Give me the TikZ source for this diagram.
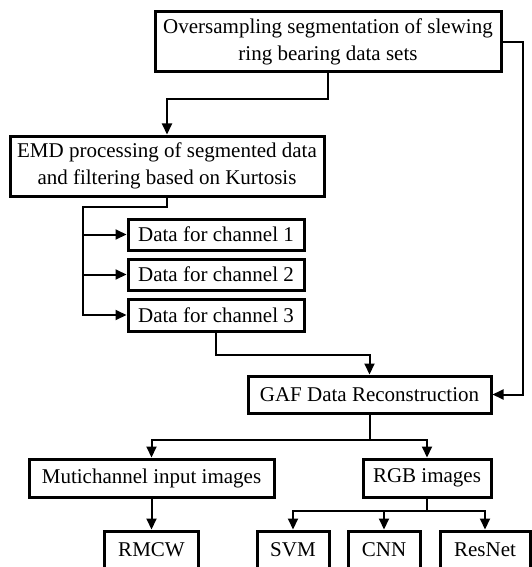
\documentclass[tikz,border=0pt]{standalone}
\usepackage{fontspec}
\setmainfont{Liberation Serif}
\usetikzlibrary{arrows.meta}
\tikzset{
  box/.style={draw, line width=3pt, inner sep=0pt, align=center,
    font=\fontsize{21}{27}\selectfont},
  conn/.style={line width=2pt},
  arr/.style={conn, -{Triangle[length=11pt,width=10pt]}}
}
\begin{document}
\begin{tikzpicture}[x=1pt,y=-1pt]
\useasboundingbox (0,0) rectangle (532,567);
\node[box, minimum width=346pt, minimum height=60pt] (B1) at (328,42) {Oversampling segmentation of slewing\\ring bearing data sets};
\node[box, minimum width=314pt, minimum height=60pt] (B2) at (167,166) {EMD processing of segmented data\\and filtering based on Kurtosis};
\node[box, minimum width=176pt, minimum height=31pt] (C1) at (216,234.5) {Data for channel 1};
\node[box, minimum width=176pt, minimum height=31pt] (C2) at (216,274.5) {Data for channel 2};
\node[box, minimum width=176pt, minimum height=32pt] (C3) at (216,315) {Data for channel 3};
\node[box, minimum width=243pt, minimum height=37pt] (GAF) at (369.5,394.5) {GAF Data Reconstruction};
\node[box, minimum width=245pt, minimum height=38pt] (MI) at (151.5,478) {Mutichannel input images};
\node[box, minimum width=128pt, minimum height=38pt] (RGB) at (427,478) {RGB images};
\node[box, minimum width=94pt, minimum height=38pt] (RMCW) at (151.5,550) {RMCW};
\node[box, minimum width=72pt, minimum height=38pt] (SVM) at (293,550) {SVM};
\node[box, minimum width=72pt, minimum height=38pt] (CNN) at (384,550) {CNN};
\node[box, minimum width=90pt, minimum height=38pt] (RES) at (485,550) {ResNet};
% connectors
\draw[arr] (B1.south) -- ++(0,26) -| (B2.north);
\coordinate (rt) at (523,42);
\draw[arr] (B1.east) -- (rt) |- (GAF.east);
\coordinate (bus) at (83,207);
\draw[arr] (B2.south) |- (bus) |- (C3.west);
\draw[arr] (bus |- C1.west) -- (C1.west);
\draw[arr] (bus |- C2.west) -- (C2.west);
\draw[arr] (C3.south) -- ++(0,22) -| (GAF.north);
\draw[conn] (GAF.south) -- ++(0,25) coordinate (g);
\draw[arr] (g) -| (MI.north);
\draw[arr] (g) -| (RGB.north);
\draw[arr] (MI.south) -- (RMCW.north);
\draw[conn] (RGB.south) -- ++(0,12) coordinate (h);
\draw[arr] (h) -| (SVM.north);
\draw[arr] (h) -| (CNN.north);
\draw[arr] (h) -| (RES.north);
\end{tikzpicture}
\end{document}
